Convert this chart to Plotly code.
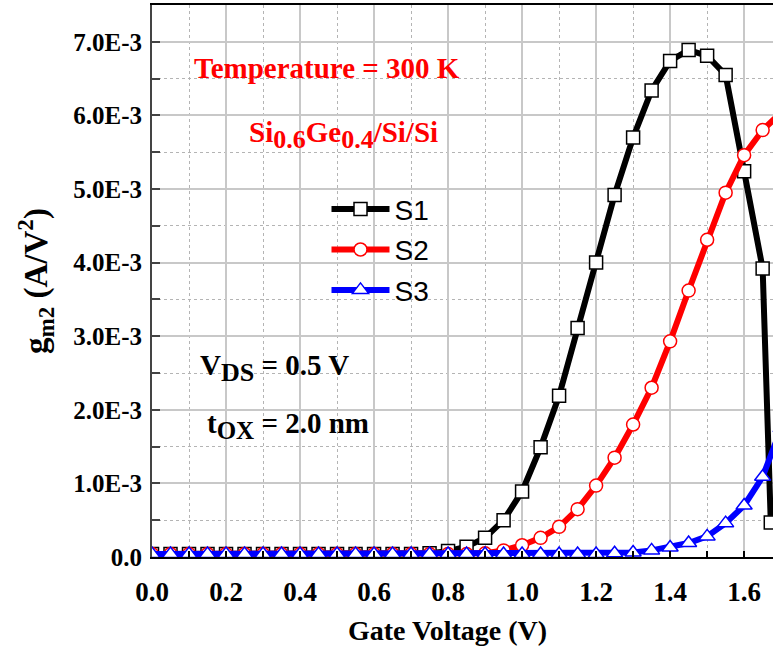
import plotly.graph_objects as go

# Gate voltage (V)
vg = [0.00, 0.05, 0.10, 0.15, 0.20, 0.25, 0.30, 0.35, 0.40, 0.45, 0.50, 0.55,
      0.60, 0.65, 0.70, 0.75, 0.80, 0.85, 0.90, 0.95, 1.00, 1.05, 1.10, 1.15,
      1.20, 1.25, 1.30, 1.35, 1.40, 1.45, 1.50, 1.55, 1.60, 1.65, 1.70]
vg_s1 = vg[:34] + [1.672]

# gm2 values in units of 1E-3 A/V^2
s1 = [0.04, 0.04, 0.04, 0.04, 0.04, 0.04, 0.04, 0.04, 0.04, 0.04, 0.04, 0.04,
      0.04, 0.04, 0.04, 0.05, 0.08, 0.14, 0.26, 0.50, 0.89, 1.49, 2.19, 3.11,
      4.00, 4.92, 5.70, 6.34, 6.74, 6.89, 6.81, 6.55, 5.24, 3.92, 0.47]
s2 = [0.04, 0.04, 0.04, 0.04, 0.04, 0.04, 0.04, 0.04, 0.04, 0.04, 0.04, 0.04,
      0.04, 0.04, 0.04, 0.04, 0.04, 0.04, 0.05, 0.09, 0.16, 0.26, 0.41, 0.65,
      0.97, 1.35, 1.80, 2.30, 2.93, 3.62, 4.31, 4.95, 5.46, 5.80, 6.04]
s3 = [0.04, 0.04, 0.04, 0.04, 0.04, 0.04, 0.04, 0.04, 0.04, 0.04, 0.04, 0.04,
      0.04, 0.04, 0.04, 0.04, 0.04, 0.04, 0.04, 0.04, 0.04, 0.04, 0.04, 0.04,
      0.04, 0.05, 0.06, 0.09, 0.13, 0.19, 0.28, 0.46, 0.70, 1.09, 1.75]

series_names = ["S1", "S2", "S3"]
y_tickvals = [0, 1e-3, 2e-3, 3e-3, 4e-3, 5e-3, 6e-3, 7e-3]
y_ticktext = ["0.0", "1.0E-3", "2.0E-3", "3.0E-3", "4.0E-3", "5.0E-3", "6.0E-3", "7.0E-3"]
x_tickvals = [0.0, 0.2, 0.4, 0.6, 0.8, 1.0, 1.2, 1.4, 1.6]
x_ticktext = ["0.0", "0.2", "0.4", "0.6", "0.8", "1.0", "1.2", "1.4", "1.6"]
x_title = "<b>Gate Voltage (V)</b>"
y_title = "<b>g<sub>m2</sub> (A/V<sup>2</sup>)</b>"

SERIF = "Liberation Serif"
SANS = "Liberation Sans"

fig = go.Figure()
styles = [
    (vg_s1, s1, "black", "square", 13),
    (vg, s2, "#ff0000", "circle", 13),
    (vg, s3, "#0000ff", "triangle-up", 14),
]
for name, (xs, ys, col, sym, sz) in zip(series_names, styles):
    fig.add_trace(go.Scatter(
        x=xs, y=[v * 1e-3 for v in ys], name=name, mode="lines+markers",
        line=dict(color=col, width=6),
        marker=dict(symbol=sym, size=sz, color="white", line=dict(color=col, width=1.5)),
        legendgroup=name,
    ))

fig.update_layout(
    width=773, height=648,
    margin=dict(l=152, r=0, t=5, b=91, autoexpand=False),
    paper_bgcolor="white", plot_bgcolor="white",
    showlegend=True,
    legend=dict(x=0.281, y=0.675, xanchor="left", yanchor="top",
                bgcolor="rgba(0,0,0,0)", font=dict(family=SANS, size=28, color="black"),
                tracegroupgap=1, itemwidth=58),
    font=dict(family=SERIF, color="black"),
)

fig.update_xaxes(
    range=[0, 1.678], tickvals=x_tickvals, ticktext=x_ticktext, automargin=False,
    tickfont=dict(family=SERIF, size=27, color="black", weight="bold"),
    ticks="inside", ticklen=6, tickwidth=1.5, tickcolor="black",
    ticklabelstandoff=10,
    showline=True, linecolor="black", linewidth=2, mirror=True,
    showgrid=True, gridcolor="#c8c8c8", gridwidth=1.5,
    minor=dict(dtick=0.1, tick0=0, showgrid=True, gridcolor="#b4b4b4", griddash="dot",
               gridwidth=1, ticks="inside", ticklen=6, tickcolor="black"),
    zeroline=False,
)
fig.update_yaxes(
    range=[0, 7.5e-3], tickvals=y_tickvals, ticktext=y_ticktext, automargin=False,
    tickfont=dict(family=SERIF, size=25, color="black", weight="bold"),
    ticks="inside", ticklen=8, tickwidth=1.5, tickcolor="#444",
    ticklabelstandoff=3,
    showline=True, linecolor="#444", linewidth=2, mirror=True,
    showgrid=True, gridcolor="#c8c8c8", gridwidth=1.5,
    minor=dict(tickvals=[0.5e-3, 1.5e-3, 2.5e-3, 3.5e-3, 4.5e-3, 5.5e-3, 6.5e-3],
               showgrid=True, gridcolor="#b4b4b4", griddash="dot",
               gridwidth=1, ticks="inside", ticklen=8, tickcolor="#444"),
    zeroline=False,
)

# axis titles placed as text in paper coordinates
fig.add_annotation(text=x_title, xref="paper", yref="paper",
                   x=(447 - 152) / 621, y=(557 - 630) / 552,
                   xanchor="center", yanchor="middle", showarrow=False,
                   font=dict(family=SERIF, size=28, color="black"))
fig.add_annotation(text=y_title, xref="paper", yref="paper", textangle=-90,
                   x=(35 - 152) / 621, y=(557 - 281) / 552,
                   xanchor="center", yanchor="middle", showarrow=False,
                   font=dict(family=SERIF, size=33, color="black"))

annotations = [
    dict(text="<b>Temperature = 300 K</b>", x=192, y=68, color="#ff0000"),
    dict(text="<b>Si<sub><span style='font-size:26px'>0.6</span></sub>Ge"
              "<sub><span style='font-size:26px'>0.4</span></sub>/Si/Si</b>",
         x=247, y=135, color="#ff0000"),
    dict(text="<b>V<sub><span style='font-size:26px'>DS</span></sub> = 0.5 V</b>",
         x=198, y=368, color="black"),
    dict(text="<b>t<sub><span style='font-size:25px'>OX</span></sub> = 2.0 nm</b>",
         x=205, y=425, color="black"),
]
for a in annotations:
    fig.add_annotation(
        text=a["text"], xref="paper", yref="paper",
        x=(a["x"] - 152) / 621, y=(557 - a["y"]) / 552,
        xanchor="left", yanchor="middle", showarrow=False,
        font=dict(family=SERIF, size=29, color=a["color"]),
    )

fig.write_html("out.html", config={"displayModeBar": False},
               post_script="document.body.style.margin='0';document.body.style.overflow='hidden';")
